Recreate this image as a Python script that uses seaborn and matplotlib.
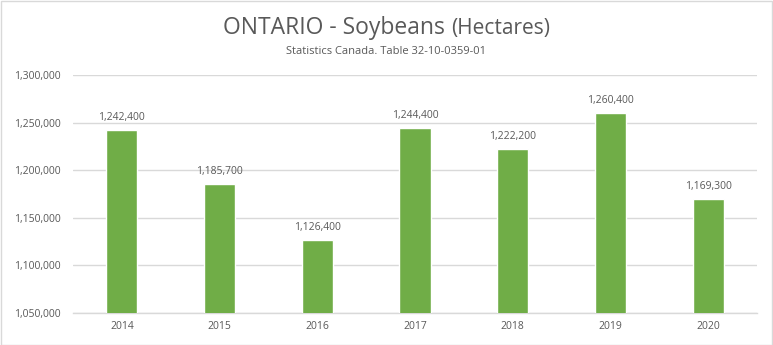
import matplotlib
matplotlib.use("Agg")
import matplotlib.pyplot as plt
from matplotlib.patches import Rectangle
from matplotlib.ticker import FuncFormatter, MultipleLocator
import seaborn as sns
import pandas as pd

years = ["2014", "2015", "2016", "2017", "2018", "2019", "2020"]
hectares = [1242400, 1185700, 1126400, 1244400, 1222200, 1260400, 1169300]

title_main = "ONTARIO - Soybeans"
title_unit = "(Hectares)"
subtitle = "Statistics Canada. Table 32-10-0359-01"

TEXT = "#595959"
GRID = "#D9D9D9"
GREEN = "#70AD47"
FONT = ["Open Sans", "DejaVu Sans"]

sns.set_theme(style="white")
plt.rcParams["font.family"] = FONT

df = pd.DataFrame({"year": years, "hectares": hectares})

W, H = 773, 345
fig = plt.figure(figsize=(W / 100, H / 100), dpi=100)
ax = fig.add_axes([73 / W, 1 - 313 / H, (757 - 73) / W, (313 - 75) / H])

sns.barplot(data=df, x="year", y="hectares", color=GREEN, width=0.32,
            saturation=1, ax=ax, zorder=3)

ax.set_ylim(1050000, 1300000)
ax.yaxis.set_major_locator(MultipleLocator(50000))
ax.yaxis.set_major_formatter(FuncFormatter(lambda v, _: f"{int(v):,}"))
ax.grid(axis="y", color=GRID, linewidth=1, zorder=0)
ax.set_xlabel("")
ax.set_ylabel("")
for s in ("top", "right", "left"):
    ax.spines[s].set_visible(False)
ax.spines["bottom"].set_color(GRID)
ax.spines["bottom"].set_linewidth(1)
ax.tick_params(axis="both", length=0, labelsize=7.5, colors=TEXT)
ax.tick_params(axis="y", pad=9)
ax.tick_params(axis="x", pad=6)

ax.bar_label(ax.containers[0], labels=[f"{v:,}" for v in hectares],
             padding=5, fontsize=7.5, color=TEXT)

# Two-size title, centred as a whole on the figure
t1 = fig.text(0, 1 - 34 / H, title_main, fontsize=16.5, color=TEXT, ha="left", va="baseline")
t2 = fig.text(0, 1 - 34 / H, title_unit, fontsize=15, color=TEXT, ha="left", va="baseline")
fig.canvas.draw()
r = fig.canvas.get_renderer()
w1 = t1.get_window_extent(r).width
w2 = t2.get_window_extent(r).width
gap = 6
start = (W - (w1 + gap + w2)) / 2
t1.set_x(start / W)
t2.set_x((start + w1 + gap) / W)

fig.text(0.5, 1 - 54 / H, subtitle, fontsize=8, color=TEXT, ha="center", va="baseline")

fig.patches.append(Rectangle((0.5 / W, 0.5 / H), (W - 1.5) / W, (H - 1.5) / H,
                             transform=fig.transFigure, fill=False,
                             edgecolor=GRID, linewidth=1))

fig.savefig("out.png", dpi=100)
